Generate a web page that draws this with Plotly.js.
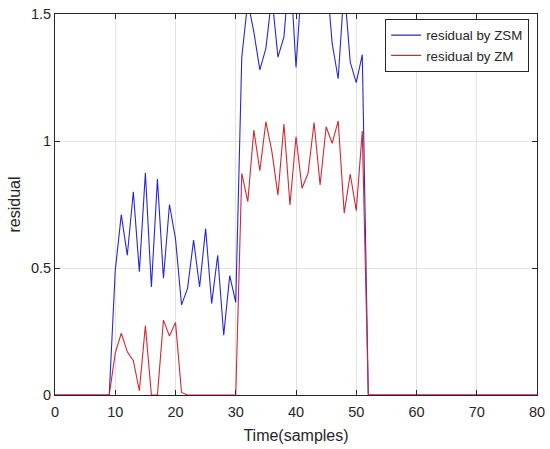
<!DOCTYPE html>
<html>
<head>
<meta charset="utf-8">
<script src="https://cdn.plot.ly/plotly-3.0.1.min.js"></script>
<style>
  html, body { margin: 0; padding: 0; background: #fff; }
  #chart { width: 550px; height: 449px; }
</style>
</head>
<body>
<div id="chart"></div>
<script>
const timeSamples = [0,1,2,3,4,5,6,7,8,9,10,11,12,13,14,15,16,17,18,19,20,21,22,23,24,25,26,27,28,29,30,31,32,33,34,35,36,37,38,39,40,41,42,43,44,45,46,47,48,49,50,51,52,53,54,55,56,57,58,59,60,61,62,63,64,65,66,67,68,69,70,71,72,73,74,75,76,77,78,79,80];

const residualZSM = [0,0,0,0,0,0,0,0,0,0,
  0.49,0.71,0.55,0.80,0.485,0.875,0.425,0.85,0.46,0.75,
  0.615,0.355,0.42,0.61,0.425,0.655,0.36,0.55,0.235,0.47,
  0.365,1.33,1.55,1.43,1.28,1.365,1.57,1.33,1.41,1.7,
  1.29,1.65,1.8,1.7,1.85,1.67,1.385,1.245,1.61,1.31,
  1.23,1.34,0,0,0,0,0,0,0,0,
  0,0,0,0,0,0,0,0,0,0,
  0,0,0,0,0,0,0,0,0,0,0];

const residualZM = [0,0,0,0,0,0,0,0,0,0,
  0.165,0.243,0.17,0.135,0.017,0.273,0,0,0.295,0.232,
  0.286,0.01,0,0,0,0,0,0,0,0,
  0,0.873,0.761,1.043,0.883,1.076,0.958,0.787,1.067,0.748,
  1.017,0.814,0.873,1.073,0.827,1.056,0.991,1.079,0.716,0.870,
  0.726,1.039,0,0,0,0,0,0,0,0,
  0,0,0,0,0,0,0,0,0,0,
  0,0,0,0,0,0,0,0,0,0,0];

const seriesNames = ['residual by ZSM', 'residual by ZM'];
const xTickVals = [0,10,20,30,40,50,60,70,80];
const yTickVals = [0,0.5,1,1.5];
const yTickText = ['0','0.5','1','1.5'];

const axisColor = '#262626';
const gridColor = '#e3e3e3';
const fontFam = 'Liberation Sans, Arial, Helvetica, sans-serif';

const traces = [
  {
    x: timeSamples, y: residualZSM, name: seriesNames[0],
    type: 'scatter', mode: 'lines',
    line: { color: 'rgb(40,40,205)', width: 1.1 }
  },
  {
    x: timeSamples, y: residualZM, name: seriesNames[1],
    type: 'scatter', mode: 'lines',
    line: { color: 'rgb(210,40,50)', width: 1.1 }
  }
];

const layout = {
  width: 550, height: 449,
  margin: { l: 55, r: 13, t: 14, b: 54 },
  paper_bgcolor: '#ffffff',
  plot_bgcolor: '#ffffff',
  font: { family: fontFam, color: axisColor, size: 14 },
  showlegend: true,
  xaxis: {
    range: [0, 80],
    tickvals: xTickVals,
    ticks: 'inside', ticklen: 5, tickwidth: 1, tickcolor: axisColor,
    showline: true, linecolor: axisColor, linewidth: 1, mirror: 'ticks',
    showgrid: true, gridcolor: gridColor, gridwidth: 1,
    zeroline: false,
    ticklabelstandoff: 4,
    tickfont: { size: 14.5, color: axisColor, family: fontFam },
    title: { text: 'Time(samples)', font: { size: 16, color: axisColor, family: fontFam }, standoff: 10 }
  },
  yaxis: {
    range: [0, 1.5],
    tickvals: yTickVals, ticktext: yTickText,
    ticks: 'inside', ticklen: 5, tickwidth: 1, tickcolor: axisColor,
    showline: true, linecolor: axisColor, linewidth: 1, mirror: 'ticks',
    showgrid: true, gridcolor: gridColor, gridwidth: 1,
    zeroline: false,
    tickfont: { size: 14.5, color: axisColor, family: fontFam },
    title: { text: 'residual', font: { size: 16, color: axisColor, family: fontFam }, standoff: 6 }
  },
  legend: {
    x: 0.685, y: 0.987, xanchor: 'left', yanchor: 'top',
    bgcolor: '#ffffff', bordercolor: axisColor, borderwidth: 1,
    font: { size: 13.3, color: axisColor, family: fontFam },
    tracegroupgap: 0
  }
};

Plotly.newPlot('chart', traces, layout, { displayModeBar: false, staticPlot: true });
</script>
</body>
</html>
